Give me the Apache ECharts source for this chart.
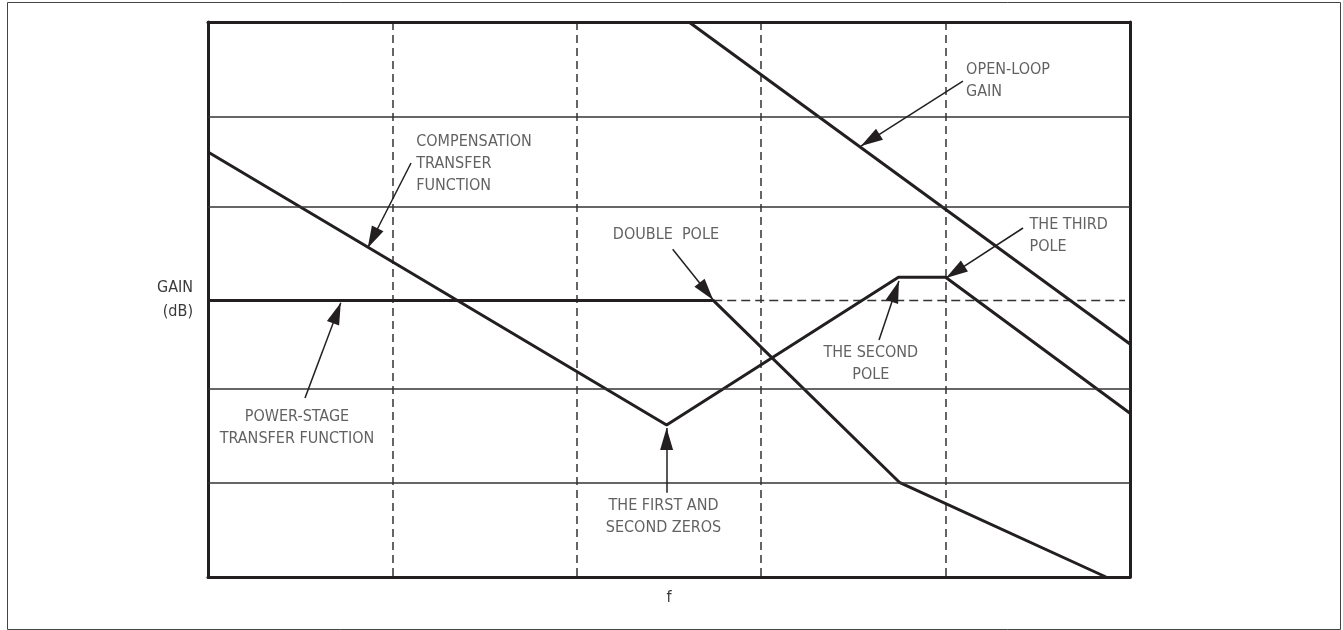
<!DOCTYPE html>
<html>
<head>
<meta charset="utf-8">
<title>Gain vs f</title>
<script src="https://cdn.jsdelivr.net/npm/echarts@6/dist/echarts.min.js"></script>
<style>
html,body{margin:0;padding:0;background:#fff;}
#chart{width:1343px;height:630px;}
</style>
</head>
<body>
<div id="chart"></div>
<script>
// x = decades of f across the plot (0..5), y = gain in grid rows (0..6)
var powerStage = [[0, 2.99], [2.74, 2.99], [3.749, 1.024], [4.87, 0]];
var powerStageExt = [[2.74, 2.99], [4.973, 2.99]];
var compensation = [[0, 4.595], [2.487, 1.643], [3.744, 3.24], [4.0, 3.24], [5, 1.77]];
var openLoop = [[2.608, 6], [5, 2.519]];
var hLines = [1.024, 2.032, 4.003, 4.984];

// arrows: tail -> tip
var arrows = [
  [[1.101, 4.476], [0.866, 3.557]],
  [[4.094, 5.362], [3.541, 4.659]],
  [[2.520, 3.543], [2.740, 2.995]],
  [[4.420, 3.773], [4.002, 3.232]],
  [[3.639, 2.562], [3.747, 3.200]],
  [[0.526, 1.935], [0.720, 2.965]],
  [[2.487, 0.911], [2.487, 1.611]]
];

// notes: text, x, y, align
var notes = [
  ['COMPENSATION\nTRANSFER\nFUNCTION', 1.132, 4.465, 'left'],
  ['OPEN-LOOP\nGAIN', 4.114, 5.362, 'left'],
  ['DOUBLE  POLE', 2.198, 3.697, 'left'],
  ['THE THIRD\nPOLE', 4.458, 3.683, 'left'],
  ['THE SECOND\nPOLE', 3.597, 2.297, 'center'],
  ['POWER-STAGE\nTRANSFER FUNCTION', 0.485, 1.607, 'center'],
  ['THE FIRST AND\nSECOND ZEROS', 2.473, 0.640, 'center']
];

var INK = '#231f20';
var TXT = '#3a3a3a';
var FONT = "'DejaVu Sans Condensed', 'Liberation Sans Narrow', sans-serif";
var FS = 16;

var chart = echarts.init(document.getElementById('chart'));

var borderLine = { show: true, onZero: false, lineStyle: { color: INK, width: 3 } };

chart.setOption({
  backgroundColor: '#fff',
  animation: false,
  graphic: [{
    type: 'rect',
    shape: { x: 7.5, y: 2.5, width: 1333, height: 627 },
    style: { fill: 'none', stroke: '#444', lineWidth: 1 },
    silent: true
  }],
  grid: { left: 208, right: 213, top: 22, bottom: 53 },
  xAxis: [{
    type: 'value', min: 0, max: 5, interval: 1, position: 'bottom',
    name: 'f', nameLocation: 'middle', nameGap: 13,
    nameTextStyle: { fontFamily: FONT, fontSize: FS, color: TXT },
    axisLine: borderLine, axisTick: { show: false }, axisLabel: { show: false },
    splitLine: { show: true, showMinLine: false, showMaxLine: false,
      lineStyle: { color: '#333', width: 1.5, type: [8, 5] } }
  }, {
    type: 'value', min: 0, max: 5, position: 'top',
    axisLine: borderLine, axisTick: { show: false }, axisLabel: { show: false },
    splitLine: { show: false }
  }],
  yAxis: [{
    type: 'value', min: 0, max: 6, interval: 1, position: 'left',
    name: 'GAIN\n(dB)', nameLocation: 'middle', nameGap: 15, nameRotate: 0,
    nameTextStyle: { fontFamily: FONT, fontSize: FS, color: TXT, lineHeight: 24, align: 'right' },
    axisLine: borderLine, axisTick: { show: false }, axisLabel: { show: false },
    splitLine: { show: false }
  }, {
    type: 'value', min: 0, max: 6, position: 'right',
    axisLine: borderLine, axisTick: { show: false }, axisLabel: { show: false },
    splitLine: { show: false }
  }],
  series: [
    {
      name: 'grid', type: 'line', data: [], silent: true,
      markLine: {
        silent: true, symbol: 'none', animation: false,
        label: { show: false },
        lineStyle: { color: '#333', width: 1.5, type: 'solid' },
        data: hLines.map(function (v) { return { yAxis: v }; })
      }
    },
    {
      name: 'power-stage ext', type: 'line', data: powerStageExt,
      symbol: 'none', silent: true,
      lineStyle: { color: '#333', width: 1.5, type: [9, 5] }
    },
    {
      name: 'power-stage', type: 'line', data: powerStage, symbol: 'none', silent: true,
      lineStyle: { color: INK, width: 3 }, z: 3
    },
    {
      name: 'compensation', type: 'line', data: compensation, symbol: 'none', silent: true,
      lineStyle: { color: INK, width: 3 }, z: 3
    },
    {
      name: 'open-loop', type: 'line', data: openLoop, symbol: 'none', silent: true,
      lineStyle: { color: INK, width: 3 }, z: 3
    },
    {
      name: 'arrows', type: 'line', data: [], silent: true, z: 4,
      markLine: {
        silent: true, animation: false,
        symbol: ['none', 'triangle'],
        label: { show: false },
        lineStyle: { color: INK, width: 1.5, type: 'solid' },
        itemStyle: { color: INK },
        data: arrows.map(function (a) {
          return [
            { coord: a[0], symbol: 'none' },
            { coord: a[1], symbol: 'triangle', symbolSize: [13, 22], symbolOffset: [0, 11] }
          ];
        })
      }
    },
    {
      name: 'notes', type: 'scatter', silent: true, z: 5,
      symbolSize: 1,
      itemStyle: { color: 'rgba(0,0,0,0)' },
      label: {
        show: true, position: [0, 0], verticalAlign: 'middle',
        fontFamily: FONT, fontSize: FS, color: TXT, lineHeight: 22,
        formatter: function (p) { return p.data.text; }
      },
      data: notes.map(function (n) {
        return { value: [n[1], n[2]], text: n[0], label: { align: n[3] } };
      })
    }
  ]
});
</script>
</body>
</html>
